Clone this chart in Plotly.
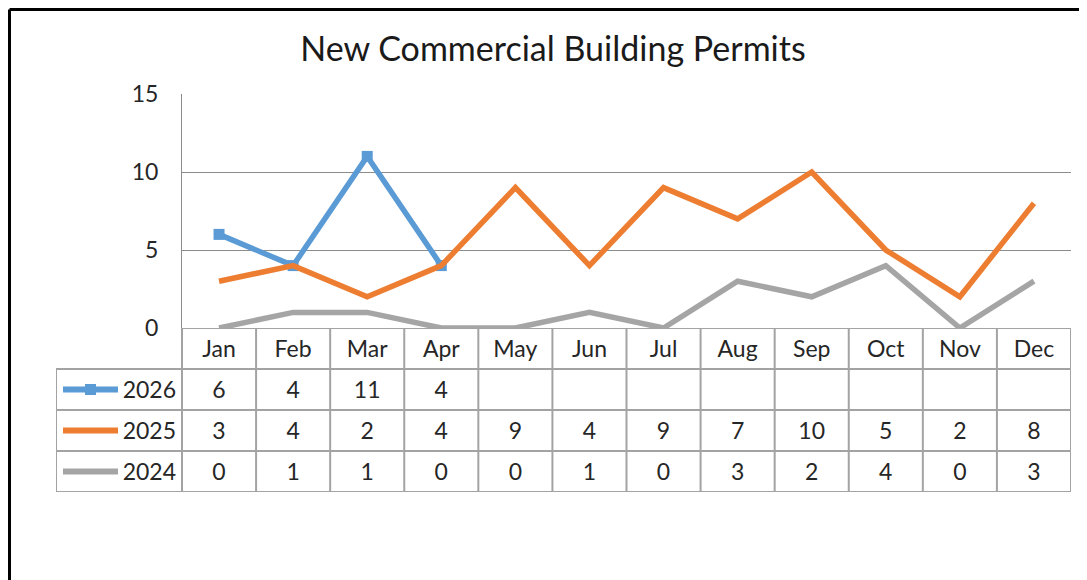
import plotly.graph_objects as go

months = ["Jan", "Feb", "Mar", "Apr", "May", "Jun", "Jul", "Aug", "Sep", "Oct", "Nov", "Dec"]
series_names = ["2026", "2025", "2024"]
v2026 = [6, 4, 11, 4, None, None, None, None, None, None, None, None]
v2025 = [3, 4, 2, 4, 9, 4, 9, 7, 10, 5, 2, 8]
v2024 = [0, 1, 1, 0, 0, 1, 0, 3, 2, 4, 0, 3]
y_ticks = [0, 5, 10, 15]
title_text = "New Commercial Building Permits"

colors = {"2026": "#5B9BD5", "2025": "#ED7D31", "2024": "#A5A5A5"}
series_vals = {"2026": v2026, "2025": v2025, "2024": v2024}

# page body has an 8px margin, so the figure is drawn 8px in from the corner
OFF = 8
W, H = 1087 - OFF, 580 - OFF


def fx(px):  # reference pixel -> figure pixel
    return px - OFF


L_PX, R_PX, T_PX, B_PX = fx(56), fx(1071), fx(94), fx(492)
PLOT_LEFT_PX, AXIS0_PX = fx(182), fx(328)
ML, MR, MT, MB = L_PX, W - R_PX, T_PX, H - B_PX
pw, ph = R_PX - L_PX, B_PX - T_PX
col_w = (R_PX - PLOT_LEFT_PX) / len(months)
x_dom_main = [(PLOT_LEFT_PX - L_PX) / pw, 1]
y_split = (B_PX - AXIS0_PX) / ph
tbl_left = -0.5 - (PLOT_LEFT_PX - L_PX) / col_w
n_rows = 1 + len(series_names)
TXT_DY = 0.07  # small baseline nudge for table text


def fig_px_to_paper_x(px):
    return (px - L_PX) / pw


def fig_px_to_paper_y(py):
    return (B_PX - py) / ph


FONT = "Lato"
TXT = "#262626"
GRID = "#A3A3A3"
FS = 23

fig = go.Figure()

xs = list(range(len(months)))
for name in series_names:
    vals = series_vals[name]
    is_marker = name == "2026"
    fig.add_trace(go.Scatter(
        x=xs, y=vals, mode="lines+markers" if is_marker else "lines",
        line=dict(color=colors[name], width=5.5),
        marker=dict(symbol="square", size=11, color=colors[name]),
        connectgaps=False, showlegend=False, hoverinfo="skip",
        xaxis="x", yaxis="y",
    ))

# data table grid lines
gx, gy = [], []
gx += [-0.5, len(months) - 0.5, None]
gy += [0, 0, None]
for r in range(1, n_rows + 1):
    gx += [tbl_left, len(months) - 0.5, None]
    gy += [r, r, None]
gx += [tbl_left, tbl_left, None]
gy += [1, n_rows, None]
for c in range(len(months) + 1):
    gx += [c - 0.5, c - 0.5, None]
    gy += [0, n_rows, None]
fig.add_trace(go.Scatter(x=gx, y=gy, mode="lines", line=dict(color=GRID, width=2),
                         showlegend=False, hoverinfo="skip", xaxis="x2", yaxis="y2"))

fig.add_trace(go.Scatter(x=xs, y=[0.5 + TXT_DY] * len(months), mode="text", text=months,
                         textfont=dict(family=FONT, size=FS, color=TXT),
                         showlegend=False, hoverinfo="skip", xaxis="x2", yaxis="y2"))
key_x0 = tbl_left + 7 / col_w
key_x1 = tbl_left + 62 / col_w
lab_x = -0.5 - 6 / col_w
for i, name in enumerate(series_names):
    row_y = i + 1.5
    vals = series_vals[name]
    fig.add_trace(go.Scatter(x=xs, y=[row_y + TXT_DY] * len(months), mode="text",
                             text=["" if v is None else str(v) for v in vals],
                             textfont=dict(family=FONT, size=FS, color=TXT),
                             showlegend=False, hoverinfo="skip", xaxis="x2", yaxis="y2"))
    fig.add_trace(go.Scatter(x=[key_x0, key_x1], y=[row_y, row_y], mode="lines",
                             line=dict(color=colors[name], width=6),
                             showlegend=False, hoverinfo="skip", xaxis="x2", yaxis="y2"))
    if name == "2026":
        fig.add_trace(go.Scatter(x=[(key_x0 + key_x1) / 2], y=[row_y], mode="markers",
                                 marker=dict(symbol="square", size=11, color=colors[name]),
                                 showlegend=False, hoverinfo="skip", xaxis="x2", yaxis="y2"))
    fig.add_trace(go.Scatter(x=[lab_x], y=[row_y + TXT_DY], mode="text", text=[name],
                             textposition="middle left",
                             textfont=dict(family=FONT, size=FS, color=TXT),
                             showlegend=False, hoverinfo="skip", xaxis="x2", yaxis="y2"))

# outer border (top and left edges), drawn at the very edge of the figure
bx = fig_px_to_paper_x(1.5)
by = fig_px_to_paper_y(1.5)
fig.add_shape(type="line", xref="paper", yref="paper", x0=bx, x1=fig_px_to_paper_x(W + 10),
              y0=by, y1=by, line=dict(color="black", width=3))
fig.add_shape(type="line", xref="paper", yref="paper", x0=bx, x1=bx,
              y0=by, y1=fig_px_to_paper_y(H + 10), line=dict(color="black", width=3))

fig.update_layout(
    width=W, height=H,
    margin=dict(l=ML, r=MR, t=MT, b=MB, pad=0),
    paper_bgcolor="white", plot_bgcolor="white",
    font=dict(family=FONT, color=TXT),
    title=dict(text=title_text, x=fx(553) / W, xref="container", xanchor="center",
               y=1 - fx(49) / H, yref="container", yanchor="middle",
               font=dict(family=FONT, size=34, color="#1a1a1a")),
    xaxis=dict(domain=x_dom_main, range=[-0.5, len(months) - 0.5], anchor="y",
               showgrid=False, showticklabels=False, zeroline=False, showline=False,
               fixedrange=True),
    yaxis=dict(domain=[y_split, 1], range=[0, 15], anchor="x", tickvals=y_ticks,
               showgrid=True, gridcolor="#8C8C8C", gridwidth=1, zeroline=False,
               showline=True, linecolor="#8C8C8C", linewidth=1,
               ticks="", ticklabelstandoff=18,
               tickfont=dict(family=FONT, size=FS, color=TXT), fixedrange=True),
    xaxis2=dict(domain=[0, 1], range=[tbl_left, len(months) - 0.5], anchor="y2",
                showgrid=False, showticklabels=False, zeroline=False, showline=False,
                fixedrange=True),
    yaxis2=dict(domain=[0, y_split], range=[n_rows, 0], anchor="x2",
                showgrid=False, showticklabels=False, zeroline=False, showline=False,
                fixedrange=True),
)

fig.write_html("out.html")
